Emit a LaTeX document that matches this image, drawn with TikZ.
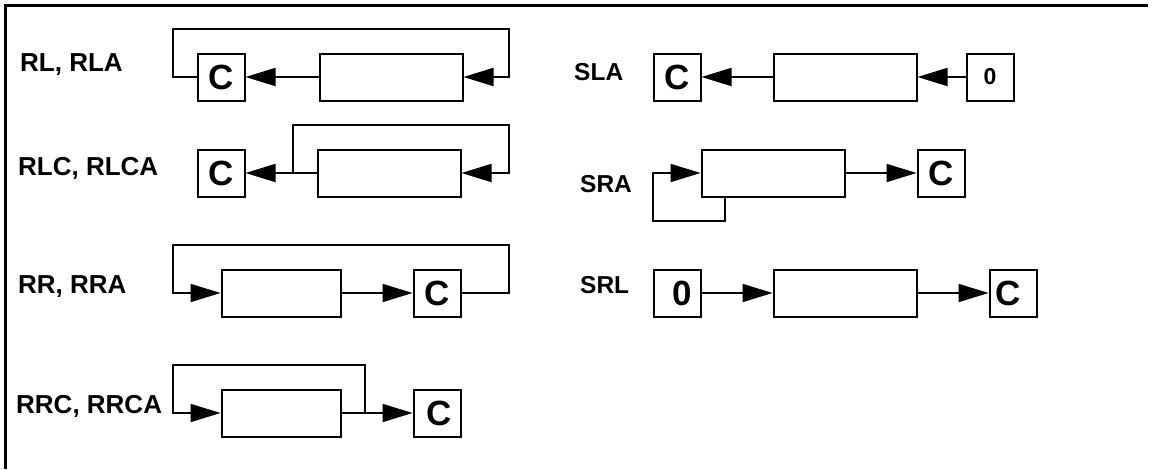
\documentclass[tikz,border=0pt]{standalone}
\usepackage{fontspec}
\setmainfont{Liberation Sans}
\usetikzlibrary{arrows.meta}
\begin{document}
\begin{tikzpicture}[x=1pt,y=-1pt,
  reg/.style={draw, line width=2pt, minimum width=143pt, minimum height=47pt, inner sep=0pt},
  sreg/.style={reg, minimum width=119pt},
  bit/.style={draw, line width=2pt, minimum width=47pt, minimum height=47pt, inner sep=0pt, font=\fontsize{35}{35}\selectfont\bfseries},
  sbit/.style={bit, font=\fontsize{23}{23}\selectfont\bfseries},
  lbl/.style={inner sep=0pt, anchor=base west, font=\fontsize{26}{26}\selectfont\bfseries},
  slbl/.style={lbl, font=\fontsize{24.5}{24.5}\selectfont\bfseries},
  wire/.style={line width=2pt},
  arr/.style={wire, -{Triangle[length=30pt,width=18pt]}},
  frame/.style={line width=3pt}
]
\useasboundingbox (0,0) rectangle (1153,469);
\draw[frame] (5.3,469) -- (5.3,5.3) -- (1148,5.3);

% labels
\node[lbl] (lRL) at (20,71) {RL, RLA};
\node[lbl] (lRLC) at (18,175) {RLC, RLCA};
\node[lbl] (lRR) at (18,293) {RR, RRA};
\node[lbl] (lRRC) at (16,413) {RRC, RRCA};
\node[slbl] (lSLA) at (574,80) {SLA};
\node[slbl] (lSRA) at (580,192) {SRA};
\node[slbl] (lSRL) at (580,293) {SRL};

% RL
\node[bit] (rlC) at (221,77) {C};
\node[reg] (rlR) at (391,77) {};
\draw[arr] (rlR.west) -- (rlC.east);
\draw[arr] (rlC.west) -- (173,77) -- (173,29) -- (509,29) -- (509,77) -- (rlR.east);

% RLC
\node[bit] (rlcC) at (221,173) {C};
\node[reg] (rlcR) at (389,173) {};
\coordinate (rlcJ) at (293,173);
\draw[arr] (rlcR.west) -- (rlcC.east);
\draw[arr] (rlcJ) -- (293,125) -- (509,125) -- (509,173) -- (rlcR.east);

% RR
\node[sreg] (rrR) at (281,293) {};
\node[bit] (rrC) at (437,293) {C};
\draw[arr] (rrR.east) -- (rrC.west);
\draw[arr] (rrC.east) -- (509,293) -- (509,245) -- (173,245) -- (173,293) -- (rrR.west);

% RRC
\node[sreg] (rrcR) at (281,413) {};
\node[bit] (rrcC) at (437,413) {\hspace*{5pt}C};
\coordinate (rrcJ) at (365,413);
\draw[arr] (rrcR.east) -- (rrcC.west);
\draw[arr] (rrcJ) -- (365,365) -- (173,365) -- (173,413) -- (rrcR.west);

% SLA
\node[bit] (slaC) at (677,77) {C};
\node[reg] (slaR) at (845,77) {};
\node[sbit] (slaZ) at (990,77) {0};
\draw[arr] (slaR.west) -- (slaC.east);
\draw[arr] (slaZ.west) -- (slaR.east);

% SRA
\node[reg] (sraR) at (773,173) {};
\node[bit] (sraC) at (941,173) {C};
\coordinate (sraJ) at (725,197);
\draw[arr] (sraR.east) -- (sraC.west);
\draw[arr] (sraJ) -- (725,221) -- (653,221) -- (653,173) -- (sraR.west);

% SRL
\node[bit] (srlZ) at (677,293) {\hspace*{10pt}0};
\node[reg] (srlR) at (845,293) {};
\node[bit] (srlC) at (1013,293) {C\hspace*{9pt}};
\draw[arr] (srlZ.east) -- (srlR.west);
\draw[arr] (srlR.east) -- (srlC.west);
\end{tikzpicture}
\end{document}
